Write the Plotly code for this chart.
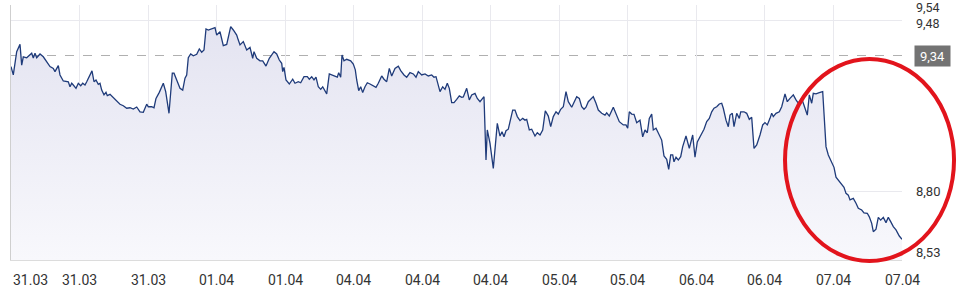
import plotly.graph_objects as go

# trading-time position (minutes of session time since start of window)
t = [0, 2.3, 5.7, 9, 10.7, 12.3, 15.7, 19, 20.7, 22.3, 24, 25.7, 29, 32.3, 35.7, 39, 42.3, 44, 47.3, 49,
     52.3, 57.3, 59, 60.7, 62.3, 65, 67.3, 69.7, 71.7, 74, 75.7, 79, 81, 83, 85, 87.3, 89, 90.7, 93, 95,
     96.3, 99, 102.3, 105.7, 109, 112.3, 115.7, 119, 122.3, 125.7, 129, 132.3, 135.7, 137.3, 140.7, 143, 145, 148.3, 152.3, 154.7,
     158, 161.3, 163, 165.7, 169, 171.7, 174, 175.7, 177.3, 179.7, 182.3, 185.7, 188.3, 190.7, 193, 195, 197.3, 204, 205.7, 209,
     212.3, 215.7, 219.7, 222.3, 225.7, 227.3, 229, 232.3, 235.7, 239, 241.7, 243, 245.7, 249, 251.7, 255, 258.3, 263, 265.7, 268.3,
     270.7, 271.7, 273, 275, 278.3, 281.7, 284, 287.3, 289.7, 293, 296.3, 298.3, 300.7, 303, 305, 307.3, 309.7, 311.7, 315.7, 318.3,
     322.3, 326.3, 327.7, 329.7, 331, 333, 335.7, 339.7, 342.3, 344.3, 345.7, 347.7, 349.7, 351.7, 354, 356.3, 359, 362.3, 365, 367.3,
     370.7, 373, 375.7, 378.3, 380.7, 384, 387.3, 389.7, 393, 395.7, 399, 402.3, 405, 407.3, 410.7, 414, 417.3, 420.7, 423, 425,
     427.3, 429, 431.7, 434, 436.3, 438.3, 440.7, 443, 445.7, 448.3, 450.7, 452.3, 455.7, 458.3, 460.7, 464, 466.3, 469, 473, 475,
     476.3, 479, 482.3, 486.3, 489, 491, 493, 495, 497.3, 499, 501.7, 504, 506.3, 509, 511.7, 514, 515.7, 518.3, 520.7, 524,
     526.3, 529, 531.7, 534.3, 537.3, 539.7, 542.3, 545, 547.3, 549.7, 552.3, 555, 557.3, 560.7, 562.3, 565.7, 568.3, 570.7, 573, 575,
     577.3, 579.7, 582.3, 585, 587.3, 590.7, 594, 595.7, 598.3, 602.3, 605, 608.3, 612.3, 615, 616.7, 618.3, 620.7, 623, 625.7, 629,
     631.7, 634, 636.3, 638.3, 640.7, 642.3, 645, 648.3, 650.7, 653, 655.7, 657.7, 659.7, 661.7, 663, 665, 667.3, 669.7, 671.7, 675,
     678.3, 681.7, 684, 686.3, 690.7, 693, 695.7, 698.3, 700.7, 703, 705.7, 708.3, 710.7, 712.3, 715, 717.3, 719, 721.3, 723, 725.7,
     728.3, 729.7, 733, 735.7, 738.3, 740.7, 743, 745.7, 749, 751.7, 754, 756.3, 759, 760.7, 762.3, 765, 768.3, 770.7, 774, 776.3,
     779, 782.3, 785, 787.3, 790.7, 793, 796.3, 798.3, 800.7, 802.3, 805, 808.3, 811.7, 813, 815, 817.3, 820.7, 823, 825, 827.3,
     830.7, 833, 835, 837.3, 839, 842.3, 845, 847.3, 850.7, 853, 856.3, 858.3, 860.7, 862.3, 865, 867.3, 869.7, 872.3, 875, 877.3,
     879.7, 882.3, 885, 888.3, 891]

price = [9.296, 9.263, 9.355, 9.384, 9.302, 9.335, 9.331, 9.345, 9.349, 9.330, 9.349, 9.331, 9.346, 9.335, 9.315, 9.296, 9.289, 9.276, 9.300, 9.263,
         9.239, 9.236, 9.216, 9.230, 9.223, 9.210, 9.230, 9.220, 9.230, 9.223, 9.236, 9.263, 9.279, 9.236, 9.243, 9.226, 9.230, 9.203, 9.184, 9.194,
         9.181, 9.186, 9.173, 9.160, 9.147, 9.141, 9.131, 9.133, 9.128, 9.136, 9.117, 9.115, 9.147, 9.137, 9.137, 9.133, 9.170, 9.194, 9.230, 9.197,
         9.111, 9.270, 9.270, 9.243, 9.210, 9.203, 9.250, 9.263, 9.331, 9.346, 9.339, 9.345, 9.366, 9.353, 9.362, 9.445, 9.441, 9.450, 9.421, 9.434,
         9.379, 9.384, 9.454, 9.441, 9.421, 9.401, 9.382, 9.395, 9.362, 9.372, 9.329, 9.355, 9.329, 9.319, 9.319, 9.298, 9.329, 9.355, 9.346, 9.322,
         9.309, 9.276, 9.293, 9.243, 9.227, 9.246, 9.230, 9.236, 9.232, 9.256, 9.256, 9.246, 9.256, 9.243, 9.254, 9.216, 9.206, 9.216, 9.188, 9.267,
         9.262, 9.254, 9.272, 9.254, 9.342, 9.319, 9.325, 9.319, 9.306, 9.283, 9.243, 9.201, 9.216, 9.193, 9.216, 9.232, 9.227, 9.219, 9.214, 9.230,
         9.259, 9.246, 9.236, 9.289, 9.259, 9.289, 9.298, 9.280, 9.263, 9.254, 9.272, 9.267, 9.254, 9.276, 9.263, 9.267, 9.259, 9.263, 9.254, 9.256,
         9.227, 9.197, 9.216, 9.206, 9.230, 9.210, 9.153, 9.153, 9.166, 9.180, 9.174, 9.176, 9.210, 9.164, 9.184, 9.190, 9.170, 9.157, 9.177, 8.926,
         9.045, 8.992, 8.893, 9.071, 9.021, 9.038, 9.018, 9.042, 9.048, 9.078, 9.124, 9.124, 9.098, 9.082, 9.091, 9.084, 9.087, 9.045, 9.048, 9.021,
         9.034, 9.025, 9.045, 9.121, 9.100, 9.058, 9.098, 9.117, 9.108, 9.127, 9.137, 9.197, 9.157, 9.135, 9.151, 9.177, 9.170, 9.137, 9.127, 9.135,
         9.157, 9.166, 9.177, 9.151, 9.124, 9.111, 9.104, 9.113, 9.100, 9.135, 9.111, 9.078, 9.065, 9.065, 9.052, 9.117, 9.108, 9.107, 9.074, 9.084,
         9.018, 9.045, 9.034, 9.091, 9.108, 9.045, 9.052, 9.025, 9.005, 8.942, 8.929, 8.889, 8.946, 8.946, 8.919, 8.937, 8.926, 8.939, 8.979, 9.021,
         8.972, 9.025, 8.937, 8.998, 9.032, 9.048, 9.078, 9.091, 9.117, 9.131, 9.137, 9.148, 9.151, 9.131, 9.084, 9.058, 9.104, 9.111, 9.058, 9.111,
         9.091, 9.117, 9.117, 9.111, 9.087, 9.095, 8.972, 8.986, 9.025, 9.065, 9.074, 9.065, 9.091, 9.111, 9.098, 9.111, 9.117, 9.137, 9.188, 9.157,
         9.170, 9.184, 9.164, 9.151, 9.170, 9.144, 9.104, 9.184, 9.151, 9.190, 9.188, 9.193, 9.197, 9.111, 8.979, 8.946, 8.919, 8.897, 8.858, 8.847,
         8.827, 8.818, 8.794, 8.787, 8.768, 8.774, 8.755, 8.735, 8.728, 8.717, 8.715, 8.701, 8.675, 8.642, 8.652, 8.699, 8.688, 8.699, 8.678, 8.699,
         8.682, 8.662, 8.649, 8.625, 8.612]

tick_pos = [0, 68.5, 137.1, 205.6, 274.2, 342.7, 411.2, 479.8, 548.3, 616.8, 685.4, 753.9, 822.5, 891]
tick_labels = ["31.03", "31.03", "31.03", "01.04", "01.04", "04.04", "04.04", "04.04",
               "05.04", "05.04", "06.04", "06.04", "07.04", "07.04"]

y_min, y_max = 8.53, 9.54
y_grid = [8.80, 9.48, 9.54]
y_labels = [(9.54, "9,54"), (9.48, "9,48"), (8.80, "8,80"), (8.53, "8,53")]
ref_price = 9.34
ref_label = "9,34"

FONT = "Roboto, 'Open Sans', sans-serif"

fig = go.Figure()
fig.add_trace(go.Scatter(
    x=t, y=price, mode="lines",
    line=dict(color="#1f3b7a", width=1.3),
    fill="tozeroy",
    fillgradient=dict(type="vertical", start=y_min, stop=y_max,
                      colorscale=[[0, "rgba(248,248,252,1)"], [1, "rgba(226,226,240,1)"]]),
    hoverinfo="skip", showlegend=False,
))

annotations = []
for i, (p, lab) in enumerate(zip(tick_pos, tick_labels)):
    annotations.append(dict(
        x=p, y=0, xref="x", yref="paper", text=lab, showarrow=False,
        xanchor="left" if i == 0 else "center", yanchor="top", yshift=-10,
        font=dict(family=FONT, size=14, color="#333333"),
    ))

for v, lab in y_labels:
    yshift = 0
    yanchor = "middle"
    size = 13
    if v == y_max:
        yanchor, yshift, size = "top", 5, 12.5
    elif v == 9.48:
        yshift, size = -3, 12.5
    elif v == y_min:
        yanchor, yshift = "bottom", 0
    annotations.append(dict(
        x=1, y=v, xref="paper", yref="y", text=lab, showarrow=False,
        xanchor="left", yanchor=yanchor, xshift=14, yshift=yshift,
        borderpad=0, borderwidth=0,
        font=dict(family=FONT, size=size, color="#333333"),
    ))

annotations.append(dict(
    x=1, y=ref_price, xref="paper", yref="y", text=ref_label, showarrow=False,
    xanchor="left", yanchor="middle", xshift=12,
    bgcolor="#737373", borderpad=2, width=31, height=16,
    font=dict(family=FONT, size=13, color="#ffffff"),
))

shapes = [
    dict(type="line", xref="paper", yref="y", x0=0, x1=1, y0=ref_price, y1=ref_price,
         line=dict(color="#b0b0b0", width=1, dash="dash"), layer="below"),
    dict(type="circle", xref="paper", yref="paper",
         x0=0.8687, x1=1.0584, y0=-0.004, y1=0.788,
         line=dict(color="#e2141c", width=4), layer="above"),
]

fig.update_layout(
    width=958, height=295,
    margin=dict(l=11, r=56, t=5, b=35),
    paper_bgcolor="white", plot_bgcolor="white",
    font=dict(family=FONT),
    xaxis=dict(range=[0, 891], tickvals=tick_pos, showticklabels=False,
               showgrid=True, gridcolor="#e9e9ee", gridwidth=1,
               showline=True, linecolor="#dcdcdc", linewidth=1,
               zeroline=False, ticks="", fixedrange=True),
    yaxis=dict(range=[y_min, y_max], tickvals=y_grid, showticklabels=False,
               showgrid=True, gridcolor="#e9e9ee", gridwidth=1,
               showline=True, linecolor="#cfcfcf", linewidth=1,
               zeroline=False, ticks="", fixedrange=True),
    annotations=annotations,
    shapes=shapes,
)

fig.write_html("out.html")
